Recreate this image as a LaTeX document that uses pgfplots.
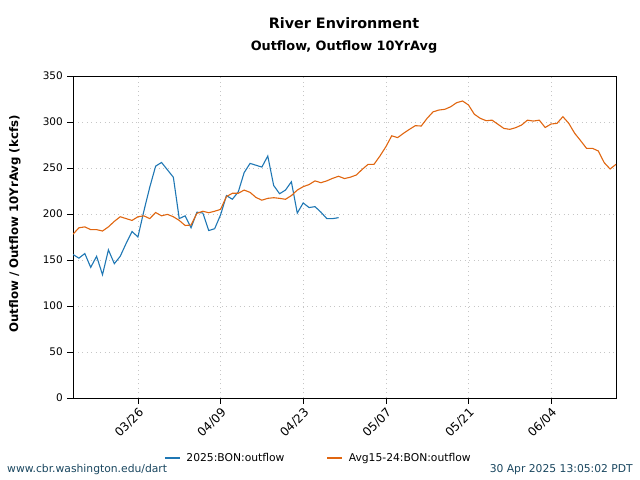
\documentclass[border=0pt]{standalone}
\usepackage{fontspec}
\setmainfont{DejaVu Sans}
\usepackage{pgfplots}
\pgfplotsset{compat=1.18}
\definecolor{cblue}{RGB}{31,119,180}
\definecolor{corange}{RGB}{224,102,16}
\definecolor{foot}{RGB}{25,70,95}
\begin{document}
\begin{tikzpicture}[x=1bp,y=1bp]
\path (0,0) rectangle (640,480);
\begin{axis}[at={(73bp,82bp)}, anchor=south west, scale only axis,
  width=543bp, height=322bp,
  xmin=-11, xmax=81, ymin=0, ymax=350,
  xtick={0,14,28,42,56,70},
  xticklabels={03/26,04/09,04/23,05/07,05/21,06/04},
  ytick={0,50,...,350},
  tick align=outside, tick pos=left, major tick length=6bp,
  every tick/.style={black, line width=0.6bp},
  axis line style={line width=0.9bp},
  grid=major,
  major grid style={gray!45, line width=0.6bp, dash pattern=on 1bp off 3.5bp},
  /pgf/number format/assume math mode=true,
  yticklabel style={font=\fontsize{10.5}{12}\selectfont, inner sep=4bp},
  xticklabel style={font=\fontsize{12}{14}\selectfont, rotate=45, anchor=north east, inner sep=2bp},
  legend style={at={(0.452,-0.186)}, anchor=center, draw=none, fill=none,
    font=\fontsize{10.8}{12}\selectfont, legend columns=2,
    /tikz/every even column/.append style={column sep=40bp}},
  legend image code/.code={\draw[#1, line width=1.4bp] (0bp,0bp) -- (15bp,0bp); \path (19bp,0bp);},
]
\addplot[cblue, line width=1.1bp] coordinates {
(-11,156) (-10,152) (-9,157) (-8,142) (-7,154) (-6,134) (-5,161) (-4,146) (-3,154) (-2,168)
(-1,181) (0,175) (1,203) (2,229) (3,252) (4,256) (5,248) (6,240) (7,195) (8,198)
(9,185) (10,202) (11,201) (12,182) (13,184) (14,199) (15,220) (16,216) (17,224) (18,245)
(19,255) (20,253) (21,251) (22,263) (23,231) (24,222) (25,226) (26,235) (27,201) (28,212)
(29,207) (30,208) (31,202) (32,195) (33,195) (34,196)
};
\addlegendentry{2025:BON:outflow}
\addplot[corange, line width=1.1bp] coordinates {
(-11,178) (-10,185) (-9,186) (-8,183) (-7,183) (-6,181.5) (-5,186) (-4,192) (-3,197) (-2,195)
(-1,193) (0,197) (1,198) (2,195) (3,201.6) (4,198) (5,199.6) (6,197) (7,193) (8,187.5)
(9,188) (10,200.7) (11,203) (12,201.4) (13,203) (14,205) (15,219) (16,222.5) (17,222.5) (18,226)
(19,223.5) (20,218) (21,215) (22,217) (23,217.7) (24,217) (25,216) (26,220) (27,226) (28,229.7)
(29,232) (30,236) (31,234) (32,236) (33,238.8) (34,241) (35,238.5) (36,240) (37,242.4) (38,248.5)
(39,254) (40,254) (41,263) (42,273) (43,285) (44,283) (45,287.7) (46,292) (47,296) (48,295.6)
(49,304) (50,311) (51,313) (52,313.8) (53,316.6) (54,321) (55,322.8) (56,318.5) (57,308.4) (58,304)
(59,301.4) (60,302) (61,297.5) (62,293) (63,292) (64,293.8) (65,296.7) (66,302) (67,301) (68,302)
(69,294) (70,297.8) (71,298.5) (72,305.8) (73,298.5) (74,287.7) (75,279.7) (76,271.4) (77,271.4) (78,268.5)
(79,255.8) (80,248.9) (81,254)
};
\addlegendentry{Avg15-24:BON:outflow}
\end{axis}
\node[font=\bfseries\fontsize{14.4}{16}\selectfont] at (344,457) {River Environment};
\node[font=\bfseries\fontsize{12.9}{14}\selectfont] at (344,433) {Outflow, Outflow 10YrAvg};
\node[font=\bfseries\fontsize{11.8}{13}\selectfont, rotate=90] at (15,256) {Outflow / Outflow 10YrAvg (kcfs)};
\node[font=\fontsize{10.8}{12}\selectfont, text=foot, anchor=west, inner sep=0pt] at (7,10) {www.cbr.washington.edu/dart};
\node[font=\fontsize{10.8}{12}\selectfont, text=foot, anchor=east, inner sep=0pt] at (633,10) {30 Apr 2025 13:05:02 PDT};
\end{tikzpicture}
\end{document}
